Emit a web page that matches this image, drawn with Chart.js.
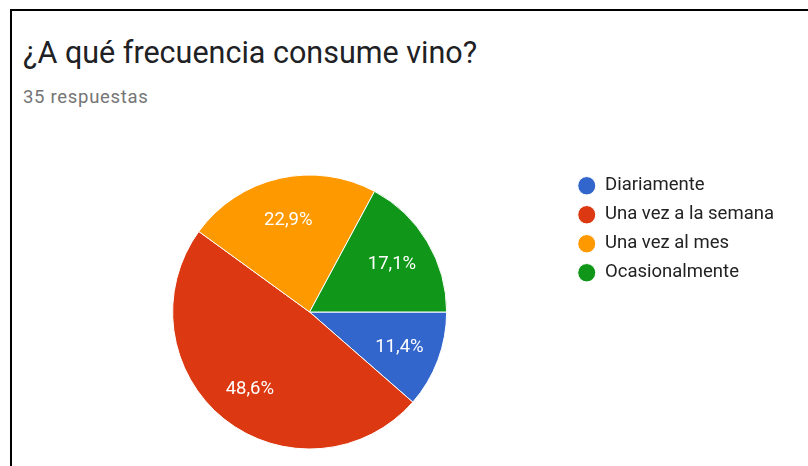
<!DOCTYPE html>
<html>
<head>
<meta charset="utf-8">
<script src="https://cdn.jsdelivr.net/npm/chart.js@4"></script>
<style>
  html, body { margin: 0; padding: 0; background: #fff; }
  body { width: 808px; height: 466px; position: relative; overflow: hidden; font-family: Roboto, Arial, sans-serif; }
  .card { position: absolute; left: 10px; top: 9px; width: 820px; height: 480px; border-top: 2px solid #000; border-left: 2px solid #000; }
  .title { position: absolute; left: 23px; top: 38px; font-size: 30.5px; line-height: 1; color: #202124; white-space: nowrap; }
  .sub { position: absolute; left: 23px; top: 88px; font-size: 18.5px; letter-spacing: 0.7px; line-height: 1; color: #757575; white-space: nowrap; }
  .chart-box { position: absolute; left: 0; top: 140px; width: 808px; height: 326px; }
</style>
</head>
<body>
<div class="card"></div>
<div class="title">¿A qué frecuencia consume vino?</div>
<div class="sub">35 respuestas</div>
<div class="chart-box"><canvas id="pie"></canvas></div>

<script>
// respuestas por categoría (35 en total)
const categorias = ['Diariamente', 'Una vez a la semana', 'Una vez al mes', 'Ocasionalmente'];
const respuestas = [4, 17, 8, 6];
const colores = ['#3366cc', '#dc3912', '#ff9900', '#109618'];

const total = respuestas.reduce((a, b) => a + b, 0);
const pct = v => (v / total * 100).toFixed(1).replace('.', ',') + '%';

// porcentajes dentro de cada sector
const etiquetasSector = {
  id: 'etiquetasSector',
  afterDatasetsDraw(chart) {
    const ctx = chart.ctx;
    const meta = chart.getDatasetMeta(0);
    ctx.save();
    ctx.font = '18.5px Roboto, Arial, sans-serif';
    ctx.fillStyle = '#ffffff';
    ctx.textAlign = 'center';
    ctx.textBaseline = 'middle';
    meta.data.forEach((arc, i) => {
      const { x, y, startAngle, endAngle, outerRadius } = arc.getProps(['x', 'y', 'startAngle', 'endAngle', 'outerRadius'], true);
      const mid = (startAngle + endAngle) / 2;
      const r = outerRadius * 0.7;
      ctx.fillText(pct(respuestas[i]), x + Math.cos(mid) * r, y + Math.sin(mid) * r + 2);
    });
    ctx.restore();
  }
};

new Chart(document.getElementById('pie'), {
  type: 'pie',
  data: {
    labels: categorias,
    datasets: [{
      data: respuestas,
      backgroundColor: colores,
      borderColor: '#ffffff',
      borderWidth: 1,
    }]
  },
  options: {
    responsive: true,
    maintainAspectRatio: false,
    animation: false,
    rotation: 90,
    radius: 137,
    layout: { padding: { top: 26, bottom: 8, left: 52, right: 24 } },
    plugins: {
      tooltip: { enabled: false },
      legend: {
        position: 'right',
        align: 'start',
        labels: {
          color: '#222222',
          font: { family: 'Roboto', size: 18.5 },
          usePointStyle: true,
          pointStyle: 'circle',
          pointStyleWidth: 18,
          boxHeight: 13,
          padding: 10.5,
        }
      }
    }
  },
  plugins: [etiquetasSector]
});
</script>
</body>
</html>
